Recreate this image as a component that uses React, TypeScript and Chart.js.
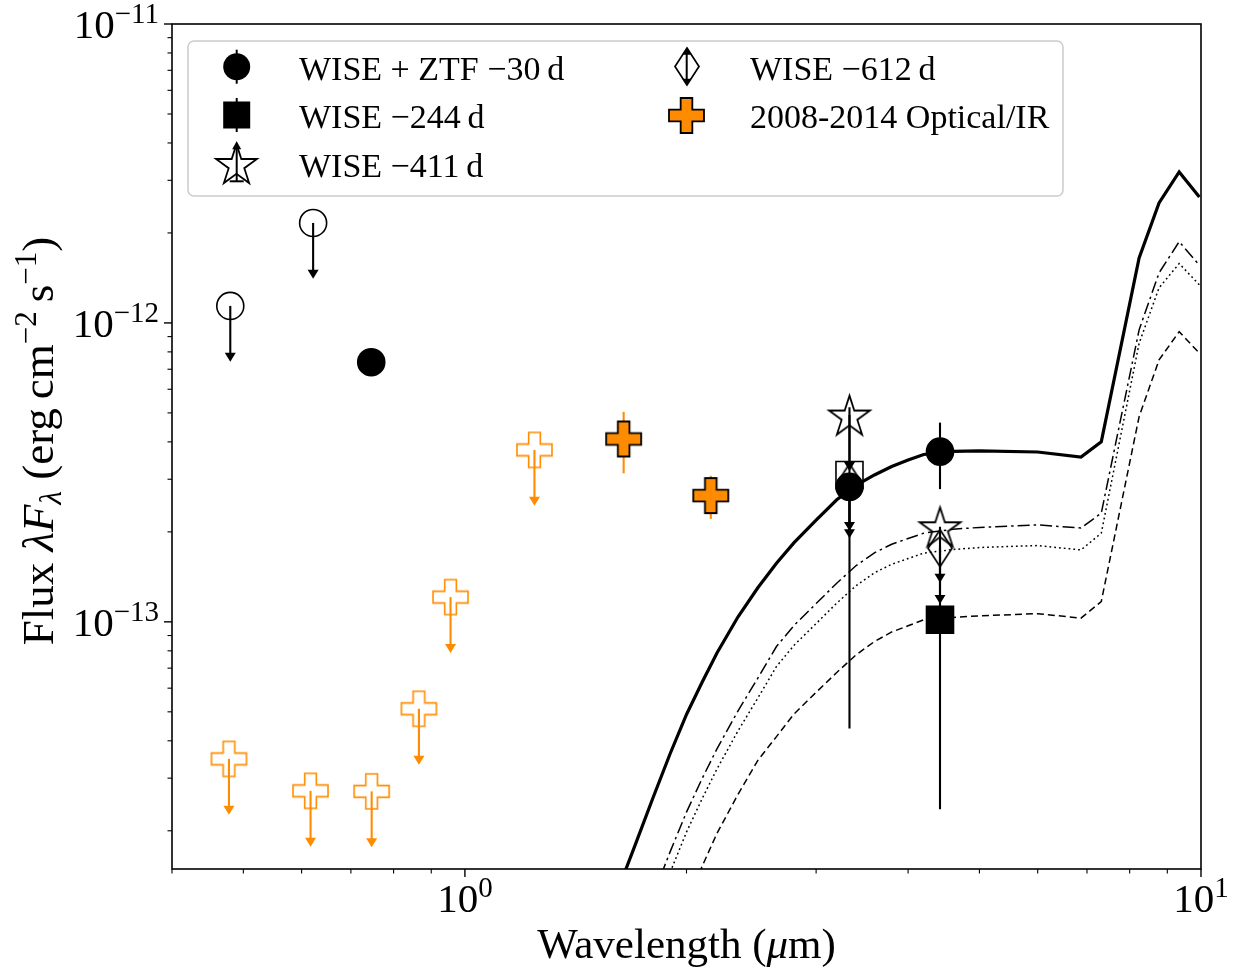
import React, { useEffect, useRef } from "react";
import { Chart, registerables } from "chart.js";

Chart.register(...registerables);

// ---------------- model curves (wavelength in micron, flux lambda*F_lambda) ----------------
const modelWavelength = [1.55, 1.6, 1.7, 1.8, 1.9, 2.0, 2.1, 2.2, 2.35, 2.5, 2.65, 2.8, 3.0, 3.2, 3.4, 3.6, 3.8, 4.0, 4.2, 4.6, 5.0, 6.0, 6.87, 7.32, 8.24, 8.77, 9.34, 9.95];
const modelSolid = [9.8e-15, 1.2e-14, 1.77e-14, 2.57e-14, 3.62e-14, 4.9e-14, 6.28e-14, 7.87e-14, 1.04e-13, 1.3e-13, 1.57e-13, 1.84e-13, 2.19e-13, 2.56e-13, 2.86e-13, 3.1e-13, 3.31e-13, 3.48e-13, 3.63e-13, 3.72e-13, 3.73e-13, 3.7e-13, 3.56e-13, 4.0e-13, 1.65e-12, 2.52e-12, 3.2e-12, 2.64e-12];
const modelDashDot = [null, null, null, 1.21e-14, 1.7e-14, 2.31e-14, 2.99e-14, 3.76e-14, 5.04e-14, 6.48e-14, 8.27e-14, 9.73e-14, 1.151e-13, 1.347e-13, 1.543e-13, 1.702e-13, 1.818e-13, 1.9e-13, 1.98e-13, 2.04e-13, 2.07e-13, 2.11e-13, 2.06e-13, 2.31e-13, 9.48e-13, 1.47e-12, 1.87e-12, 1.56e-12];
const modelDotted = [null, null, null, 1.03e-14, 1.45e-14, 1.98e-14, 2.56e-14, 3.22e-14, 4.32e-14, 5.56e-14, 7.09e-14, 8.35e-14, 9.87e-14, 1.155e-13, 1.322e-13, 1.459e-13, 1.558e-13, 1.628e-13, 1.698e-13, 1.745e-13, 1.773e-13, 1.8e-13, 1.74e-13, 1.98e-13, 8.55e-13, 1.31e-12, 1.58e-12, 1.34e-12];
const modelDashed = [null, null, null, null, null, 1.14e-14, 1.52e-14, 1.96e-14, 2.65e-14, 3.44e-14, 4.13e-14, 4.92e-14, 5.81e-14, 6.77e-14, 7.76e-14, 8.59e-14, 9.25e-14, 9.7e-14, 1.016e-13, 1.035e-13, 1.047e-13, 1.065e-13, 1.029e-13, 1.169e-13, 4.86e-13, 7.52e-13, 9.35e-13, 7.92e-13];

// ---------------- photometry ----------------
const ztfWiseWavelength = [0.48, 0.622, 0.746, 3.33, 4.42];
const ztfWiseFlux = [1.14e-12, 2.16e-12, 7.39e-13, 2.83e-13, 3.71e-13];
const ztfWiseErr = [0, 0, 0, 2.39e-13, 9.3e-14];
const ztfWiseUpper = [true, true, false, false, false];

const wise244Wavelength = [3.33, 4.42];
const wise244Flux = [3.1e-13, 1.016e-13];
const wise244Err = [0, 7.8e-14];
const wise244Upper = [true, false];

const wise411Wavelength = [3.33, 4.42];
const wise411Flux = [4.92e-13, 2.08e-13];
const wise411Err = [0, 0];
const wise411Upper = [true, true];

const wise612Wavelength = [3.33, 4.42];
const wise612Flux = [2.93e-13, 1.764e-13];
const wise612Err = [0, 0];
const wise612Upper = [true, true];

const archWavelength = [0.478, 0.617, 0.747, 0.866, 0.956, 1.243, 1.643, 2.158];
const archFlux = [3.48e-14, 2.72e-14, 2.71e-14, 5.12e-14, 1.21e-13, 3.76e-13, 4.09e-13, 2.645e-13];
const archErr = [0, 0, 0, 0, 0, 0, 9.5e-14, 4.35e-14];
const archUpper = [true, true, true, true, true, true, false, false];

// fraction of the flux spanned by an upper-limit arrow
const UPPER_LIMIT_ARROW = 0.35;

// ---------------- axes ----------------
const xMin = 0.4;
const xMax = 10;
const yMin = 1.49e-14;
const yMax = 1e-11;
const xMajorTicks = [1, 10];
const xMajorExponents = ["0", "1"];
const yMajorTicks = [1e-13, 1e-12, 1e-11];
const yMajorExponents = ["\u221213", "\u221212", "\u221211"];

const legendLabels = [
  "WISE + ZTF \u221230\u2009d",
  "WISE \u2212244\u2009d",
  "WISE \u2212411\u2009d",
  "WISE \u2212612\u2009d",
  "2008-2014 Optical/IR",
];

const ORANGE = "#ff8c00";
const CLEAR = "rgba(0,0,0,0)";
const FAM = '"Liberation Serif", "DejaVu Serif", serif';

function makeStar(R: number, lw: number, fill: string, stroke: string) {
  const size = Math.ceil(2 * R + 2 * lw + 4);
  const c = document.createElement("canvas");
  c.width = size;
  c.height = size;
  const g = c.getContext("2d")!;
  const cx = size / 2, cy = size / 2 + R * 0.1;
  g.beginPath();
  for (let k = 0; k < 10; k++) {
    const r = k % 2 === 0 ? R : R * 0.381966;
    const a = -Math.PI / 2 + (k * Math.PI) / 5;
    const px = cx + r * Math.cos(a), py = cy + r * Math.sin(a);
    if (k === 0) g.moveTo(px, py); else g.lineTo(px, py);
  }
  g.closePath();
  g.fillStyle = fill;
  g.fill();
  g.lineWidth = lw;
  g.strokeStyle = stroke;
  g.lineJoin = "miter";
  g.stroke();
  return c;
}

function makeDiamond(hw: number, hh: number, lw: number, fill: string, stroke: string) {
  const w = Math.ceil(2 * hw + 2 * lw + 4);
  const h = Math.ceil(2 * hh + 2 * lw + 4);
  const c = document.createElement("canvas");
  c.width = w;
  c.height = h;
  const g = c.getContext("2d")!;
  const cx = w / 2, cy = h / 2;
  g.beginPath();
  g.moveTo(cx, cy - hh);
  g.lineTo(cx + hw, cy);
  g.lineTo(cx, cy + hh);
  g.lineTo(cx - hw, cy);
  g.closePath();
  g.fillStyle = fill;
  g.fill();
  g.lineWidth = lw;
  g.strokeStyle = stroke;
  g.stroke();
  return c;
}

function makePlus(s: number, lw: number, fill: string, stroke: string) {
  const size = Math.ceil(s + 2 * lw + 4);
  const c = document.createElement("canvas");
  c.width = size;
  c.height = size;
  const g = c.getContext("2d")!;
  const o = (size - s) / 2;
  const t = s / 3;
  const pts = [
    [t, 0], [2 * t, 0], [2 * t, t], [s, t], [s, 2 * t], [2 * t, 2 * t],
    [2 * t, s], [t, s], [t, 2 * t], [0, 2 * t], [0, t], [t, t],
  ];
  g.beginPath();
  pts.forEach(([px, py], i) => {
    if (i === 0) g.moveTo(o + px, o + py); else g.lineTo(o + px, o + py);
  });
  g.closePath();
  g.fillStyle = fill;
  g.fill();
  g.lineWidth = lw;
  g.strokeStyle = stroke;
  g.lineJoin = "miter";
  g.stroke();
  return c;
}

function arrowHead(ctx: CanvasRenderingContext2D, x: number, tipY: number, dir: number, w: number, h: number) {
  ctx.beginPath();
  ctx.moveTo(x, tipY);
  ctx.lineTo(x - w / 2, tipY - dir * h);
  ctx.lineTo(x + w / 2, tipY - dir * h);
  ctx.closePath();
  ctx.fill();
}

type Seg = { t: string; f: string; dy?: number };
function segWidth(ctx: CanvasRenderingContext2D, segs: Seg[]) {
  let w = 0;
  for (const s of segs) {
    ctx.font = s.f;
    w += ctx.measureText(s.t).width;
  }
  return w;
}
function drawSegs(ctx: CanvasRenderingContext2D, segs: Seg[], x: number, y: number) {
  for (const s of segs) {
    ctx.font = s.f;
    ctx.fillText(s.t, x, y + (s.dy || 0));
    x += ctx.measureText(s.t).width;
  }
}

export default function App() {
  const ref = useRef<HTMLCanvasElement>(null);

  useEffect(() => {
    const canvas = ref.current;
    if (!canvas) return;

    const starOpen = makeStar(21.5, 1.8, CLEAR, "#000");
    const diamondOpen = makeDiamond(12, 18.5, 1.7, CLEAR, "#000");
    const plusOpen = makePlus(35, 1.6, CLEAR, ORANGE);
    const plusFilled = makePlus(35, 1.8, ORANGE, "#000");

    const pts = (xs: number[], ys: (number | null)[]) =>
      xs.map((x, i) => ({ x, y: ys[i] })).filter((p) => p.y !== null);

    const pointSeries = [
      { wl: ztfWiseWavelength, flux: ztfWiseFlux, err: ztfWiseErr, upper: ztfWiseUpper, color: "#000" },
      { wl: wise244Wavelength, flux: wise244Flux, err: wise244Err, upper: wise244Upper, color: "#000" },
      { wl: wise411Wavelength, flux: wise411Flux, err: wise411Err, upper: wise411Upper, color: "#000" },
      { wl: wise612Wavelength, flux: wise612Flux, err: wise612Err, upper: wise612Upper, color: "#000" },
      { wl: archWavelength, flux: archFlux, err: archErr, upper: archUpper, color: ORANGE },
    ];

    const errorBarPlugin = {
      id: "errorBars",
      beforeDatasetsDraw(chart: any) {
        const { ctx, chartArea: a } = chart;
        const xs = chart.scales.x, ys = chart.scales.y;
        ctx.save();
        ctx.beginPath();
        ctx.rect(a.left, a.top, a.right - a.left, a.bottom - a.top);
        ctx.clip();
        for (const s of pointSeries) {
          ctx.strokeStyle = s.color;
          ctx.fillStyle = s.color;
          ctx.lineWidth = 2.1;
          for (let i = 0; i < s.wl.length; i++) {
            const px = xs.getPixelForValue(s.wl[i]);
            const py = ys.getPixelForValue(s.flux[i]);
            if (s.err[i] > 0) {
              const lo = ys.getPixelForValue(Math.max(s.flux[i] - s.err[i], 1e-20));
              const hi = ys.getPixelForValue(s.flux[i] + s.err[i]);
              ctx.beginPath();
              ctx.moveTo(px, lo);
              ctx.lineTo(px, hi);
              ctx.stroke();
            }
            if (s.upper[i]) {
              const tip = ys.getPixelForValue(s.flux[i] * (1 - UPPER_LIMIT_ARROW));
              ctx.beginPath();
              ctx.moveTo(px, py);
              ctx.lineTo(px, tip - 4);
              ctx.stroke();
              arrowHead(ctx, px, tip, 1, 11, 9);
            }
          }
        }
        ctx.restore();
      },
    };

    const axesPlugin = {
      id: "mplAxes",
      afterDatasetsDraw(chart: any) {
        const { ctx, chartArea: a } = chart;
        const xs = chart.scales.x, ys = chart.scales.y;
        ctx.save();
        ctx.strokeStyle = "#000";
        ctx.fillStyle = "#000";
        const tick = (x1: number, y1: number, x2: number, y2: number, lw: number) => {
          ctx.lineWidth = lw;
          ctx.beginPath();
          ctx.moveTo(x1, y1);
          ctx.lineTo(x2, y2);
          ctx.stroke();
        };
        for (let d = -1; d <= 0; d++) {
          for (let m = 2; m <= 9; m++) {
            const v = m * Math.pow(10, d);
            if (v < xMin - 1e-9 || v > xMax) continue;
            const px = xs.getPixelForValue(v);
            tick(px, a.bottom, px, a.bottom + 4.5, 1.1);
          }
        }
        for (const v of xMajorTicks) {
          const px = xs.getPixelForValue(v);
          tick(px, a.bottom, px, a.bottom + 8, 1.4);
        }
        for (let d = -14; d <= -12; d++) {
          for (let m = 2; m <= 9; m++) {
            const v = m * Math.pow(10, d);
            if (v < yMin || v > yMax) continue;
            const py = ys.getPixelForValue(v);
            tick(a.left, py, a.left - 4.5, py, 1.1);
          }
        }
        for (const v of yMajorTicks) {
          const py = ys.getPixelForValue(v);
          tick(a.left, py, a.left - 8, py, 1.4);
        }
        ctx.lineWidth = 1.6;
        ctx.strokeRect(a.left, a.top, a.right - a.left, a.bottom - a.top);

        ctx.textBaseline = "alphabetic";
        ctx.textAlign = "left";
        const big = `41px ${FAM}`;
        const small = `29px ${FAM}`;
        xMajorTicks.forEach((v, i) => {
          const px = xs.getPixelForValue(v);
          const segs: Seg[] = [{ t: "10", f: big }, { t: xMajorExponents[i], f: small, dy: -15 }];
          const w = segWidth(ctx, segs);
          drawSegs(ctx, segs, px - w / 2, a.bottom + 43);
        });
        yMajorTicks.forEach((v, i) => {
          const py = ys.getPixelForValue(v);
          const segs: Seg[] = [{ t: "10", f: big }, { t: yMajorExponents[i], f: small, dy: -15 }];
          const w = segWidth(ctx, segs);
          drawSegs(ctx, segs, a.left - 13 - w, py + 14);
        });

        const xl: Seg[] = [
          { t: "Wavelength (", f: `43px ${FAM}` },
          { t: "\u03bc", f: `italic 43px ${FAM}` },
          { t: "m)", f: `43px ${FAM}` },
        ];
        const xw = segWidth(ctx, xl);
        drawSegs(ctx, xl, (a.left + a.right) / 2 - xw / 2, 958);

        const yl: Seg[] = [
          { t: "Flux ", f: `45px ${FAM}` },
          { t: "\u03bbF", f: `italic 45px ${FAM}` },
          { t: "\u03bb", f: `italic 31px ${FAM}`, dy: 8 },
          { t: " (erg\u2009cm", f: `45px ${FAM}` },
          { t: "\u22122", f: `31px ${FAM}`, dy: -17 },
          { t: "\u2009s", f: `45px ${FAM}` },
          { t: "\u22121", f: `31px ${FAM}`, dy: -17 },
          { t: ")", f: `45px ${FAM}` },
        ];
        const yw = segWidth(ctx, yl);
        ctx.save();
        ctx.translate(53, 441);
        ctx.rotate(-Math.PI / 2);
        drawSegs(ctx, yl, -yw / 2, 0);
        ctx.restore();
        ctx.restore();
      },
    };

    const legendPlugin = {
      id: "mplLegend",
      afterDraw(chart: any) {
        const ctx = chart.ctx as CanvasRenderingContext2D;
        ctx.save();
        const L = 188, T = 41, R = 1063, B = 196, r = 6;
        ctx.beginPath();
        ctx.moveTo(L + r, T);
        ctx.lineTo(R - r, T);
        ctx.arcTo(R, T, R, T + r, r);
        ctx.lineTo(R, B - r);
        ctx.arcTo(R, B, R - r, B, r);
        ctx.lineTo(L + r, B);
        ctx.arcTo(L, B, L, B - r, r);
        ctx.lineTo(L, T + r);
        ctx.arcTo(L, T, L + r, T, r);
        ctx.closePath();
        ctx.fillStyle = "rgba(255,255,255,0.8)";
        ctx.fill();
        ctx.strokeStyle = "#cccccc";
        ctx.lineWidth = 1.5;
        ctx.stroke();

        const c1 = 236.7, c2 = 686.7;
        const r1 = 66.7, r2 = 115, r3 = 163.3;
        ctx.strokeStyle = "#000";
        ctx.fillStyle = "#000";
        ctx.lineWidth = 2;
        const vline = (x: number, y1: number, y2: number) => {
          ctx.beginPath();
          ctx.moveTo(x, y1);
          ctx.lineTo(x, y2);
          ctx.stroke();
        };
        vline(c1, r1 - 17, r1 + 17);
        ctx.beginPath();
        ctx.arc(c1, r1, 13.5, 0, Math.PI * 2);
        ctx.fill();
        vline(c1, r2 - 17, r2 + 17);
        ctx.fillRect(c1 - 13.5, r2 - 13.5, 27, 27);
        vline(c1, r3 - 19, r3 + 18);
        arrowHead(ctx, c1, r3 - 22, -1, 9, 8);
        ctx.beginPath();
        ctx.moveTo(c1 - 7, r3 + 18);
        ctx.lineTo(c1 + 7, r3 + 18);
        ctx.stroke();
        ctx.drawImage(starOpen, Math.round(c1 - starOpen.width / 2), Math.round(r3 - starOpen.height / 2));
        vline(c2, r1 - 16, r1 + 16);
        arrowHead(ctx, c2, r1 - 19, -1, 9, 7);
        arrowHead(ctx, c2, r1 + 19, 1, 9, 7);
        ctx.drawImage(diamondOpen, Math.round(c2 - diamondOpen.width / 2), Math.round(r1 - diamondOpen.height / 2));
        ctx.drawImage(plusFilled, Math.round(c2 - plusFilled.width / 2), Math.round(r2 - plusFilled.height / 2));

        ctx.fillStyle = "#000";
        ctx.font = `34px ${FAM}`;
        ctx.textAlign = "left";
        ctx.textBaseline = "alphabetic";
        ctx.fillText(legendLabels[0], 299, 80);
        ctx.fillText(legendLabels[1], 299, 128.3);
        ctx.fillText(legendLabels[2], 299, 176.7);
        ctx.fillText(legendLabels[3], 750, 80);
        ctx.fillText(legendLabels[4], 750, 128.3);
        ctx.restore();
      },
    };

    const lineDs = (data: (number | null)[], width: number, dash: number[]) => ({
      type: "line" as const,
      data: pts(modelWavelength, data),
      borderColor: "#000",
      borderWidth: width,
      borderDash: dash,
      pointRadius: 0,
      fill: false,
      tension: 0,
      order: 10,
    });

    const chart = new Chart(canvas, {
      type: "scatter",
      data: {
        datasets: [
          lineDs(modelSolid, 3.2, []),
          lineDs(modelDashDot, 1.5, [12, 4, 2.5, 4]),
          lineDs(modelDotted, 1.5, [1.8, 3]),
          lineDs(modelDashed, 1.5, [7, 4]),
          {
            data: pts(archWavelength, archFlux),
            pointStyle: archUpper.map((u) => (u ? plusOpen : plusFilled)) as any,
            pointRadius: 10,
            order: 6,
          },
          {
            data: pts(wise411Wavelength, wise411Flux),
            pointStyle: starOpen as any,
            pointRadius: 10,
            order: 5,
          },
          {
            data: pts(wise612Wavelength, wise612Flux),
            pointStyle: diamondOpen as any,
            pointRadius: 10,
            order: 4,
          },
          {
            data: pts(wise244Wavelength, wise244Flux),
            pointStyle: "rect",
            pointRadius: 19.1,
            pointBackgroundColor: wise244Upper.map((u) => (u ? CLEAR : "#000")),
            pointBorderColor: "#000",
            pointBorderWidth: 1.6,
            order: 3,
          },
          {
            data: pts(ztfWiseWavelength, ztfWiseFlux),
            pointStyle: "circle",
            pointRadius: 13.5,
            pointBackgroundColor: ztfWiseUpper.map((u) => (u ? CLEAR : "#000")),
            pointBorderColor: "#000",
            pointBorderWidth: 1.6,
            order: 1,
          },
        ],
      } as any,
      options: {
        responsive: false,
        maintainAspectRatio: false,
        devicePixelRatio: 1,
        animation: false,
        events: [],
        layout: { padding: { left: 172, right: 33, top: 24, bottom: 103 } },
        scales: {
          x: { type: "logarithmic", min: xMin, max: xMax, display: false },
          y: { type: "logarithmic", min: yMin, max: yMax, display: false },
        },
        plugins: {
          legend: { display: false },
          tooltip: { enabled: false },
        },
      } as any,
      plugins: [errorBarPlugin, axesPlugin, legendPlugin],
    });

    return () => chart.destroy();
  }, []);

  return (
    <div style={{ position: "absolute", left: 0, top: 0, width: 1234, height: 972, background: "#fff" }}>
      <canvas ref={ref} width={1234} height={972} style={{ display: "block" }} />
    </div>
  );
}
